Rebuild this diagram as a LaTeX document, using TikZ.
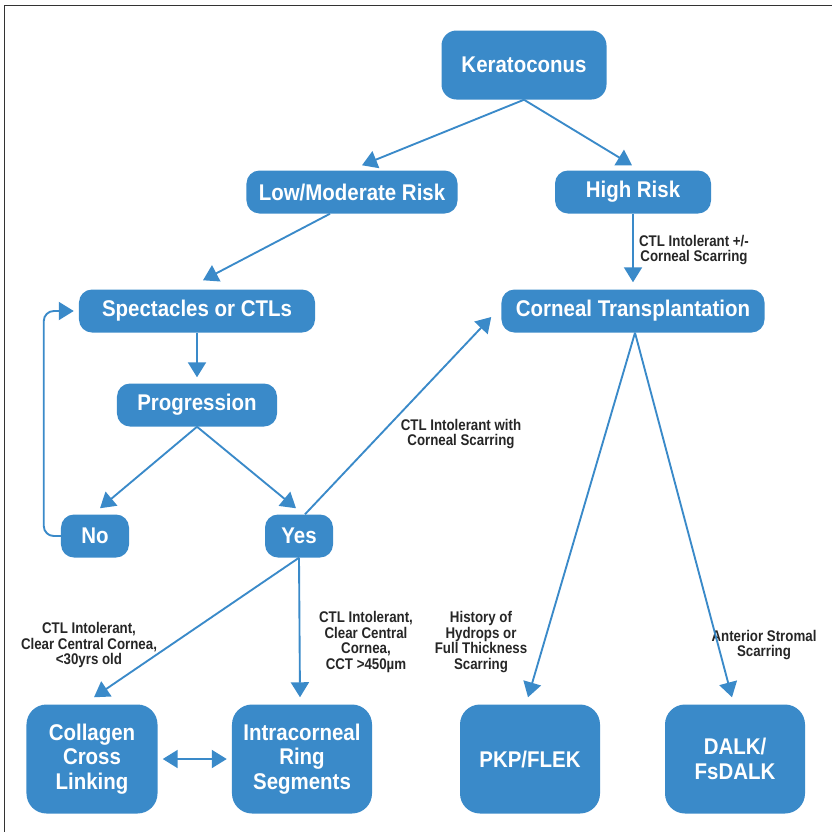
\documentclass[tikz,border=0pt]{standalone}
\usepackage{fontspec}
\setmainfont{Liberation Sans}
\newfontfamily\boxfont{Liberation Sans}[FakeStretch=0.9]
\newfontfamily\notefont{Liberation Sans}[FakeStretch=0.86]
\usepackage{tikz}
\usetikzlibrary{arrows.meta, positioning, calc}
\definecolor{kcblue}{HTML}{3A8AC9}

\begin{document}
\begin{tikzpicture}[
    x=0.03cm, y=-0.03cm,
    >={Triangle[length=12.8pt, width=15.4pt]},
    stage/.style={rectangle, rounded corners=0.39cm, fill=kcblue, text=white,
      inner sep=0pt, align=center, minimum height=1.29cm,
      font=\boxfont\bfseries\fontsize{19.4}{21}\selectfont},
    bigstage/.style={stage, rounded corners=0.6cm, minimum width=4.2cm, minimum height=3.27cm},
    conn/.style={draw=kcblue, line width=1.6pt, ->},
    note/.style={align=center, text=black!85,
      font=\notefont\bfseries\fontsize{13.2}{13.6}\selectfont},
  ]
  \useasboundingbox (0,0) rectangle (832,832);

  % Frame
  \draw[black!80, line width=0.8pt] (4,832) -- (4,5) -- (832,5);

  % Boxes
  \node[stage, minimum width=4.95cm, minimum height=2.07cm, rounded corners=0.45cm] (kc) at (524,65) {Keratoconus};
  \node[stage, minimum width=6.33cm] (low) at (352,192) {Low/Moderate Risk};
  \node[stage, minimum width=4.68cm] (high) at (633,192) {High Risk};
  \node[stage, minimum width=7.08cm] (spec) at (197,311) {Spectacles or CTLs};
  \node[stage, minimum width=7.89cm] (ct) at (633,311) {Corneal Transplantation};
  \node[stage, minimum width=4.8cm] (prog) at (197,405) {Progression};
  \node[stage, minimum width=2.04cm] (no) at (95,536) {No};
  \node[stage, minimum width=2.04cm] (yes) at (299,536) {Yes};

  % Treatments
  \node[bigstage, minimum width=3.93cm] (ccl) at (92,759) {Collagen\\Cross\\Linking};
  \node[bigstage] (icrs) at (302,759) {Intracorneal\\Ring\\Segments};
  \node[bigstage] (pkp) at (530,759) {PKP/FLEK};
  \node[bigstage] (dalk) at (735,759) {DALK/\\FsDALK};

  % Labels
  \node[note] (n1) at (694,250) {CTL Intolerant +/-\\Corneal Scarring};
  \node[note] (n2) at (461,434) {CTL Intolerant with\\Corneal Scarring};
  \node[note] (n3) at (89,645) {CTL Intolerant,\\Clear Central Cornea,\\<30yrs old};
  \node[note] (n4) at (366,642) {CTL Intolerant,\\Clear Central\\Cornea,\\CCT >450µm};
  \node[note] (n5) at (481,642) {History of\\Hydrops or\\Full Thickness\\Scarring};
  \node[note] (n6) at (764,645) {Anterior Stromal\\Scarring};

  % Risk split
  \draw[conn] (kc.south) -- ($(low.north)+(10,-5)$);
  \draw[conn] (kc.south) -- ($(high.north)+(-1,-5)$);

  % Left branch
  \draw[conn] ($(low.south)+(-22,0)$) -- ($(spec.north)+(6,-9)$);
  \draw[conn] (spec.south) -- ($(prog.north)+(0,-6)$);
  \draw[conn] (prog.south) -- ($(no.north)+(5,-6)$);
  \draw[conn] (prog.south) -- ($(yes.north)+(-3,-6)$);
  \draw[conn, rounded corners=0.3cm] (no.west) -| ($(spec.west)+(-35,0)$) -- ($(spec.west)+(-5,0)$);
  \draw[conn] ($(yes.north)+(6,0)$) -- ($(ct.west)+(-10,6)$);
  \draw[conn] (yes.south) -- ($(ccl.north)+(2,-7)$);
  \draw[conn] (yes.south) -- ($(yes.south |- icrs.north)+(1,-7)$);
  \draw[conn, <->] ($(ccl.east)+(5,0)$) -- ($(icrs.west)+(-5,0)$);

  % Right branch
  \draw[conn] (high.south) -- ($(ct.north)+(0,-7)$);
  \draw[conn] ($(ct.south)+(2,0)$) -- ($(pkp.north)+(-2,-7)$);
  \draw[conn] ($(ct.south)+(2,0)$) -- ($(dalk.north)+(-3,-7)$);
\end{tikzpicture}
\end{document}
